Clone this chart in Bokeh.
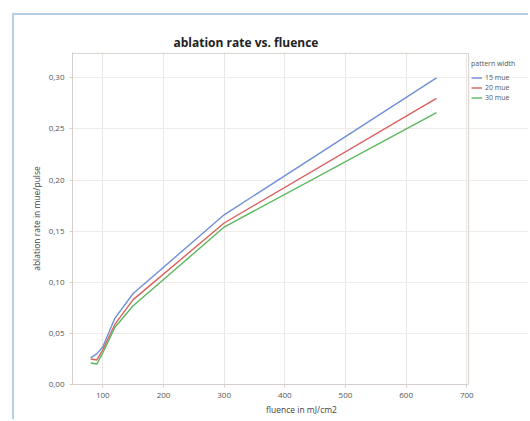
from bokeh.plotting import figure
from bokeh.models import (FixedTicker, CustomJSTickFormatter, Legend, LegendItem, Range1d)
from bokeh.embed import file_html
from bokeh.resources import INLINE

# fluence in mJ/cm2
fluence = [80, 90, 100, 120, 150, 300, 650]
# ablation rate in mue/pulse for each pattern width
rate_15 = [0.026, 0.030, 0.037, 0.065, 0.089, 0.166, 0.300]
rate_20 = [0.025, 0.024, 0.034, 0.059, 0.083, 0.158, 0.280]
rate_30 = [0.021, 0.020, 0.031, 0.056, 0.077, 0.154, 0.266]
series_names = ["15 mue", "20 mue", "30 mue"]
series_colors = ["#6f8fd8", "#d9605f", "#5cb85c"]

x_ticks = [100, 200, 300, 400, 500, 600, 700]
y_ticks = [0.0, 0.05, 0.10, 0.15, 0.20, 0.25, 0.30]

# visible axis extents; the canvas frame runs further right to hold the legend
X_MIN, X_MAX = 50, 703
Y_MIN, Y_MAX = 0, 0.324
X_FRAME_END = 805

FONT = "Open Sans"
GREY = "#555555"
EDGE = "#d6cfcb"

p = figure(width=516, height=406, output_backend="svg", toolbar_location=None,
           x_range=Range1d(X_MIN, X_FRAME_END), y_range=Range1d(Y_MIN, Y_MAX + 0.0008),
           min_border_left=58, min_border_right=0, min_border_top=37,
           min_border_bottom=37, margin=(13, 0, 0, 12))
p.styles = {"border-left": "2px solid #b7cfe2", "border-top": "2px solid #b7cfe2"}

p.title.text = "ablation rate vs. fluence"
p.title.text_font = FONT
p.title.text_font_size = "12px"
p.title.text_font_style = "bold"
p.title.text_color = "#222222"
p.title.align = "left"
p.title.offset = 101
p.title.standoff = 3

p.outline_line_color = None
p.background_fill_color = "white"
p.border_fill_color = "white"

for ax in (p.xaxis[0], p.yaxis[0]):
    ax.axis_line_color = EDGE
    ax.major_tick_line_color = EDGE
    ax.major_tick_out = 3
    ax.major_tick_in = 0
    ax.minor_tick_line_color = None
    ax.major_label_text_font = FONT
    ax.major_label_text_font_size = "8px"
    ax.major_label_text_color = GREY
    ax.axis_label_text_font = FONT
    ax.axis_label_text_font_size = "8.5px"
    ax.axis_label_text_font_style = "normal"
    ax.axis_label_text_color = "#444444"

p.xaxis.bounds = (X_MIN, X_MAX)
p.xaxis.ticker = FixedTicker(ticks=x_ticks)
p.yaxis.ticker = FixedTicker(ticks=y_ticks)
p.yaxis.formatter = CustomJSTickFormatter(code="return tick.toFixed(2).replace('.', ',');")
p.xaxis.axis_label = "fluence in mJ/cm2"
p.yaxis.axis_label = "ablation rate in mue/pulse"
p.xaxis.major_label_standoff = 5
p.yaxis.major_label_standoff = 5
p.xaxis.axis_label_standoff = 3
p.yaxis.axis_label_standoff = 4

p.xgrid.grid_line_color = "#ebe7e4"
p.ygrid.grid_line_color = "#efebe8"
p.ygrid.bounds = (X_MIN, X_MAX)

# top and right edges of the plot area
p.line([X_MIN, X_MAX, X_MAX], [Y_MAX, Y_MAX, Y_MIN], line_color=EDGE, line_width=1)

renderers = []
for ys, c in zip([rate_15, rate_20, rate_30], series_colors):
    r = p.line(fluence, ys, line_color=c, line_width=1.4)
    renderers.append(r)

# legend sits just right of the plot area, near its top
legend = Legend(items=[LegendItem(label=n, renderers=[r]) for n, r in zip(series_names, renderers)],
                location=(399, 282), title="pattern width")
legend.title_text_font = FONT
legend.title_text_font_size = "7px"
legend.title_text_font_style = "normal"
legend.title_text_color = GREY
legend.title_standoff = 5
legend.label_text_font = FONT
legend.label_text_font_size = "7px"
legend.label_text_color = GREY
legend.label_height = 9
legend.label_standoff = 3
legend.glyph_width = 11
legend.glyph_height = 9
legend.spacing = 1
legend.padding = 3
legend.margin = 0
legend.border_line_color = None
legend.background_fill_alpha = 0
p.add_layout(legend)

open("out.html", "w").write(file_html(p, INLINE))
